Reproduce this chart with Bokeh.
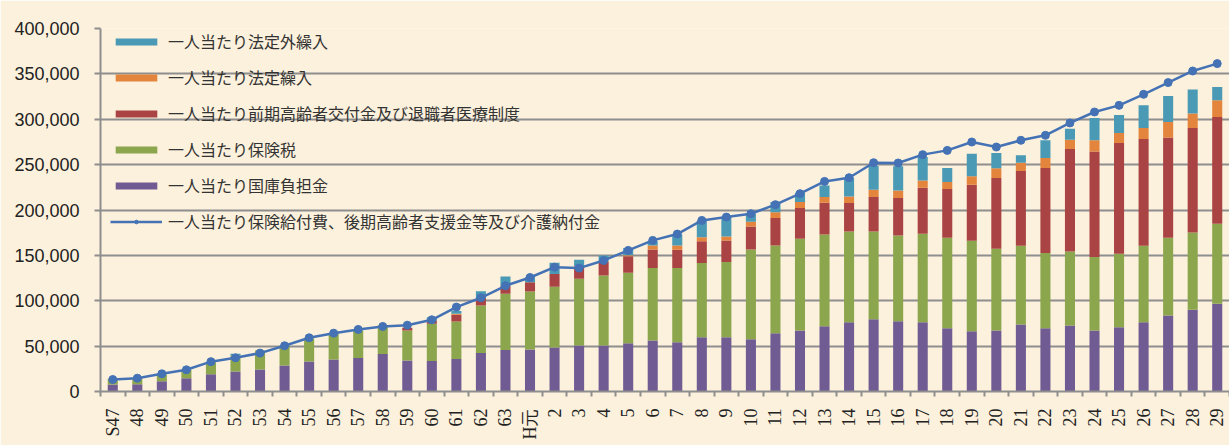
import math
from bokeh.plotting import figure
from bokeh.models import (ColumnDataSource, Range1d, LinearAxis, FixedTicker,
                          NumeralTickFormatter, Legend, LegendItem)
from bokeh.embed import file_html
from bokeh.resources import INLINE

years = ["S47", "48", "49", "50", "51", "52", "53", "54", "55", "56", "57", "58", "59", "60",
         "61", "62", "63", "H元", "2", "3", "4", "5", "6", "7", "8", "9", "10", "11", "12",
         "13", "14", "15", "16", "17", "18", "19", "20", "21", "22", "23", "24", "25", "26",
         "27", "28", "29"]

# 一人当たり国庫負担金
kokko = [7700, 8100, 11400, 14700, 19100, 22000, 24300, 28700, 33100, 35300, 36800, 41200,
         34200, 33500, 35700, 42300, 45600, 46300, 48500, 50700, 50700, 53300, 56200, 54400,
         59900, 59900, 57700, 64300, 67300, 72000, 76400, 79700, 77500, 76400, 69800, 66500,
         67300, 73900, 69800, 72800, 67300, 70900, 76400, 83800, 90100, 96700]
# 一人当たり保険税
hokenzei = [6300, 6600, 7300, 9200, 13200, 17700, 20900, 22000, 25000, 29000, 30500, 31600,
            33100, 41100, 41500, 52500, 62100, 64000, 66900, 73500, 77200, 77500, 79800, 81600,
            81600, 82700, 98900, 96700, 101100, 101100, 100000, 96700, 94500, 97400, 99600,
            99700, 90000, 86700, 82700, 81600, 80800, 80900, 84200, 85600, 85200, 88200]
# 一人当たり前期高齢者交付金及び退職者医療制度
zenki = [0, 0, 0, 0, 0, 0, 0, 0, 0, 0, 0, 0, 2900, 3700, 7400, 8100, 8800, 10200, 14000, 12800,
         14700, 18100, 20600, 20200, 24200, 23900, 25300, 30100, 33700, 35000, 31300, 37900,
         41200, 50800, 53700, 61700, 77900, 82300, 93700, 112800, 116500, 122000, 117600,
         110600, 115000, 117500]
# 一人当たり法定繰入
hotei = [0, 0, 0, 0, 0, 0, 0, 0, 0, 0, 0, 0, 0, 0, 1000, 0, 0, 0, 0, 1000, 800, 1200, 4400,
         4800, 4400, 4400, 5200, 6300, 6600, 6200, 7300, 8100, 8400, 8000, 7700, 9200, 10700,
         9200, 11000, 10300, 12200, 11000, 12100, 16900, 15900, 18500]
# 一人当たり法定外繰入
hoteigai = [0, 0, 0, 0, 0, 1800, 0, 0, 0, 0, 0, 0, 0, 3600, 3000, 7700, 10300, 5500, 12500,
            7200, 6600, 7900, 4700, 12100, 18400, 21300, 8800, 11300, 10300, 12800, 20600,
            26000, 26500, 25800, 15400, 25000, 16900, 8100, 19600, 12100, 24600, 19900, 25000,
            28700, 26500, 14600]
# 一人当たり保険給付費、後期高齢者支援金等及び介護納付金
kyufu = [13200, 14700, 19500, 23900, 32900, 37100, 42300, 50400, 59200, 64300, 68400, 71700,
         73100, 79000, 93000, 103300, 116500, 125600, 137000, 136000, 144400, 155500, 166500,
         173500, 188500, 192200, 195900, 205900, 218000, 231500, 235600, 252100, 251800,
         261000, 265700, 274900, 269400, 276800, 282300, 295900, 308000, 315300, 327500,
         340400, 353200, 361300]

y_ticks = [0, 50000, 100000, 150000, 200000, 250000, 300000, 350000, 400000]

labels = ["一人当たり法定外繰入", "一人当たり法定繰入", "一人当たり前期高齢者交付金及び退職者医療制度",
          "一人当たり保険税", "一人当たり国庫負担金", "一人当たり保険給付費、後期高齢者支援金等及び介護納付金"]

BG = "#FCF1DC"
GRID = "#8E8E8E"

n = len(years)
pos = list(range(n))
src = ColumnDataSource(dict(x=pos, year=years, kokko=kokko, hokenzei=hokenzei, zenki=zenki,
                            hotei=hotei, hoteigai=hoteigai, kyufu=kyufu))

p = figure(x_range=Range1d(-0.5, n - 0.5), y_range=Range1d(0, 400000),
           width=1229, height=445, output_backend="svg", toolbar_location=None,
           x_axis_location=None, min_border_left=100, min_border_right=0,
           min_border_top=28, min_border_bottom=54)
p.background_fill_color = BG
p.border_fill_color = BG
p.outline_line_color = None
p.xgrid.visible = False
p.ygrid.grid_line_color = GRID
p.ygrid.grid_line_width = 2
p.ygrid.ticker = FixedTicker(ticks=y_ticks)

ya = p.yaxis[0]
ya.ticker = FixedTicker(ticks=y_ticks)
ya.formatter = NumeralTickFormatter(format="0,0")
ya.axis_line_color = GRID
ya.axis_line_width = 2
ya.major_tick_line_color = GRID
ya.major_tick_line_width = 2
ya.major_tick_in = 0
ya.major_tick_out = 6
ya.minor_tick_line_color = None
ya.major_label_standoff = 15
ya.major_label_text_font = "Liberation Sans"
ya.major_label_text_font_size = "18px"
ya.major_label_text_color = "#222222"

bounds = [i - 0.5 for i in range(n + 1)]
xa = LinearAxis(ticker=FixedTicker(ticks=pos, minor_ticks=bounds),
                major_label_overrides={i: y for i, y in zip(pos, years)})
xa.axis_line_color = GRID
xa.axis_line_width = 2
xa.major_tick_line_color = None
xa.major_tick_out = 0
xa.major_tick_in = 0
xa.minor_tick_line_color = GRID
xa.minor_tick_line_width = 2
xa.minor_tick_out = 5
xa.minor_tick_in = 0
xa.major_label_orientation = math.pi / 2
xa.major_label_standoff = 12
xa.major_label_text_font = "Liberation Serif"
xa.major_label_text_font_size = "18px"
xa.major_label_text_color = "#222222"
p.add_layout(xa, "below")

stack = ["kokko", "hokenzei", "zenki", "hotei", "hoteigai"]
colors = ["#705B93", "#8CA64E", "#AA4444", "#E3853D", "#4A9AB5"]
bars = p.vbar_stack(stack, x="x", width=0.41, color=colors, source=src, line_width=0)

ln = p.line(x="x", y="kyufu", source=src, line_color="#4472B5", line_width=2.5)
pt = p.scatter(x="x", y="kyufu", source=src, size=8, fill_color="#4472B5",
               line_color="#4472B5")

items = [LegendItem(label=labels[0], renderers=[bars[4]]),
         LegendItem(label=labels[1], renderers=[bars[3]]),
         LegendItem(label=labels[2], renderers=[bars[2]]),
         LegendItem(label=labels[3], renderers=[bars[1]]),
         LegendItem(label=labels[4], renderers=[bars[0]]),
         LegendItem(label=labels[5], renderers=[ln, pt])]
legend = Legend(items=items, location=(10, 158), padding=0, margin=0, spacing=12,
                glyph_width=52, glyph_height=9, label_height=20, label_standoff=6,
                label_text_font="Noto Sans CJK JP", label_text_font_size="16px",
                label_text_color="#333333", background_fill_alpha=0,
                border_line_color=None)
p.add_layout(legend)

open("out.html", "w").write(file_html(p, INLINE))
